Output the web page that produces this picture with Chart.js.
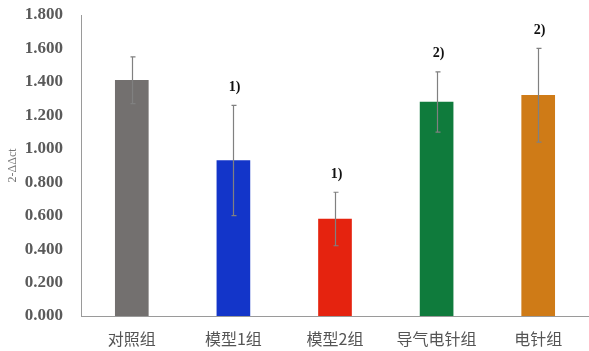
<!DOCTYPE html>
<html>
<head>
<meta charset="utf-8">
<script src="https://cdn.jsdelivr.net/npm/chart.js@4"></script>
<style>
  html, body { margin: 0; padding: 0; background: #fff; }
  #wrap { width: 589px; height: 351px; position: relative; }
</style>
</head>
<body>
<div id="wrap"><canvas id="c"></canvas></div>
<script>
// Groups and relative expression (2-ΔΔct), with standard deviation
const groups = ['对照组', '模型1组', '模型2组', '导气电针组', '电针组'];
const means = [1.41, 0.93, 0.58, 1.28, 1.32];
const errors = [0.14, 0.33, 0.16, 0.18, 0.28];
const marks = ['', '1)', '1)', '2)', '2)'];
const barColors = ['#73706f', '#1335c9', '#e5230f', '#0f7b3c', '#cf7b17'];
const yTicks = [0, 0.2, 0.4, 0.6, 0.8, 1.0, 1.2, 1.4, 1.6, 1.8];

// Draws error bars and significance marks on top of the bars
const errorBarPlugin = {
  id: 'errorBars',
  afterDatasetsDraw(chart) {
    const ctx = chart.ctx;
    const x = chart.scales.x;
    const y = chart.scales.y;
    ctx.save();
    ctx.strokeStyle = '#808080';
    ctx.lineWidth = 1.2;
    means.forEach((m, i) => {
      const cx = Math.round(x.getPixelForValue(i)) + 0.5;
      const yTop = y.getPixelForValue(m + errors[i]);
      const yBot = y.getPixelForValue(m - errors[i]);
      ctx.beginPath();
      ctx.moveTo(cx, yTop); ctx.lineTo(cx, yBot);
      ctx.moveTo(cx - 2, yTop); ctx.lineTo(cx + 3, yTop);
      ctx.moveTo(cx - 2, yBot); ctx.lineTo(cx + 3, yBot);
      ctx.stroke();
      if (marks[i]) {
        ctx.fillStyle = '#111';
        ctx.font = 'bold 14px "Liberation Serif", serif';
        ctx.textAlign = 'center';
        ctx.textBaseline = 'middle';
        ctx.fillText(marks[i], cx + 1, yTop - 18);
      }
    });
    ctx.restore();
  }
};

new Chart(document.getElementById('c'), {
  type: 'bar',
  data: {
    labels: groups,
    datasets: [{
      data: means,
      backgroundColor: barColors,
      borderWidth: 0,
      barThickness: 33
    }]
  },
  options: {
    responsive: true,
    maintainAspectRatio: false,
    animation: false,
    layout: { padding: { top: 15, right: 0, left: 0, bottom: 0 } },
    plugins: { legend: { display: false }, tooltip: { enabled: false } },
    scales: {
      x: {
        grid: { display: false, drawTicks: false },
        border: { display: true, color: '#9a9a9a', width: 1 },
        ticks: {
          color: '#555',
          padding: 13,
          maxRotation: 0,
          font: { family: '"Noto Sans CJK SC", sans-serif', size: 16 }
        },
        afterFit(scale) { scale.height = 35; }
      },
      y: {
        min: 0,
        max: 1.8,
        afterBuildTicks(scale) { scale.ticks = yTicks.map(v => ({ value: v })); },
        grid: { display: false, drawTicks: false },
        border: { display: true, color: '#9a9a9a', width: 1 },
        ticks: {
          color: '#5a5a5a',
          padding: 18,
          font: { family: '"Liberation Serif", serif', size: 17, weight: 'bold' },
          callback: v => Number(v).toFixed(3)
        },
        title: {
          display: true,
          text: '2-ΔΔct',
          color: '#777',
          padding: { top: 6, bottom: 0 },
          font: { family: '"Liberation Serif", serif', size: 12 }
        },
        afterFit(scale) {
          scale.width = 81;
          scale.paddingTop = 10;
          scale.paddingBottom = 10;
        }
      }
    }
  },
  plugins: [errorBarPlugin]
});
</script>
</body>
</html>
